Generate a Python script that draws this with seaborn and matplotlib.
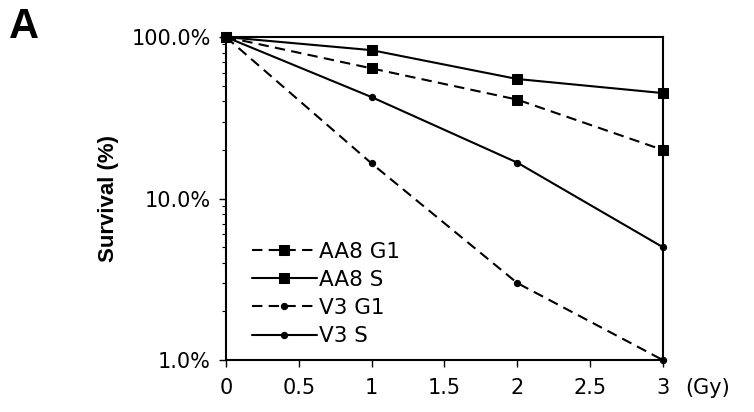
import numpy as np
import pandas as pd
import matplotlib
matplotlib.use("Agg")
import matplotlib.pyplot as plt
import matplotlib.ticker as mticker
import seaborn as sns

# dose (Gy) and survival fraction (%)
dose = [0, 1, 2, 3]
aa8_g1 = [100, 64, 41, 20]
aa8_s = [100, 83, 55, 45]
v3_g1 = [100, 16.5, 3.0, 1.0]
v3_s = [100, 42.5, 16.7, 5.0]

series_names = ["AA8 G1", "AA8 S", "V3 G1", "V3 S"]
series_values = [aa8_g1, aa8_s, v3_g1, v3_s]

x_ticks = [0, 0.5, 1, 1.5, 2, 2.5, 3]
x_tick_labels = ["0", "0.5", "1", "1.5", "2", "2.5", "3"]
y_ticks = [1, 10, 100]
y_tick_labels = ["1.0%", "10.0%", "100.0%"]

sns.set_style("ticks")
plt.rcParams["font.family"] = ["DejaVu Sans"]
plt.rcParams["text.color"] = "black"
plt.rcParams["xtick.color"] = "black"
plt.rcParams["ytick.color"] = "black"
plt.rcParams["axes.labelcolor"] = "black"

fig = plt.figure(figsize=(7.54, 4.12), dpi=100)
ax = fig.add_axes([0.2997, 0.126, 0.5795, 0.784])

styles = {
    "AA8 G1": dict(linestyle="--", marker="s", markersize=6.5),
    "AA8 S": dict(linestyle="-", marker="s", markersize=6.5),
    "V3 G1": dict(linestyle="--", marker="o", markersize=4.5),
    "V3 S": dict(linestyle="-", marker="o", markersize=4.5),
}

for name, vals in zip(series_names, series_values):
    st = styles[name]
    sns.lineplot(x=dose, y=vals, ax=ax, color="black", linewidth=1.5,
                 marker=st["marker"], markersize=st["markersize"],
                 markeredgecolor="black", label=name, clip_on=False)
    line = ax.get_lines()[-1]
    line.set_linestyle(st["linestyle"])
    if st["linestyle"] == "--":
        line.set_dashes((5, 3))

ax.set_yscale("log")
ax.set_xlim(0, 3)
ax.set_ylim(1, 100)
ax.set_xticks(x_ticks)
ax.set_xticklabels(x_tick_labels, fontsize=15)
ax.yaxis.set_major_locator(mticker.FixedLocator(y_ticks))
ax.set_yticklabels(y_tick_labels, fontsize=15)
ax.yaxis.set_minor_locator(mticker.LogLocator(base=10, subs=np.arange(2, 10)))
ax.yaxis.set_minor_formatter(mticker.NullFormatter())
ax.tick_params(axis="x", which="major", length=5, width=1, pad=8)
ax.tick_params(axis="y", which="major", length=5, width=1, pad=6)
ax.tick_params(axis="y", which="minor", length=3, width=0.8)

for sp in ax.spines.values():
    sp.set_visible(True)
    sp.set_color("black")
    sp.set_linewidth(1.5)

ax.set_xlabel("")
ax.set_ylabel("Survival (%)", fontsize=16, fontweight="bold",
              family="Liberation Sans")
ax.yaxis.set_label_coords(-0.245, 0.5)

ax.text(1.05, -0.085, "(Gy)", transform=ax.transAxes, fontsize=15,
        ha="left", va="center")

fig.text(0.012, 0.935, "A", fontsize=30, fontweight="bold",
         family="Liberation Sans", ha="left", va="center")

leg = ax.legend(loc="lower left", bbox_to_anchor=(0.035, 0.01), frameon=False,
                fontsize=15.5, handlelength=3.0, handletextpad=0.1,
                labelspacing=0.38, borderpad=0)

fig.savefig("out.png", dpi=100, facecolor="white")
